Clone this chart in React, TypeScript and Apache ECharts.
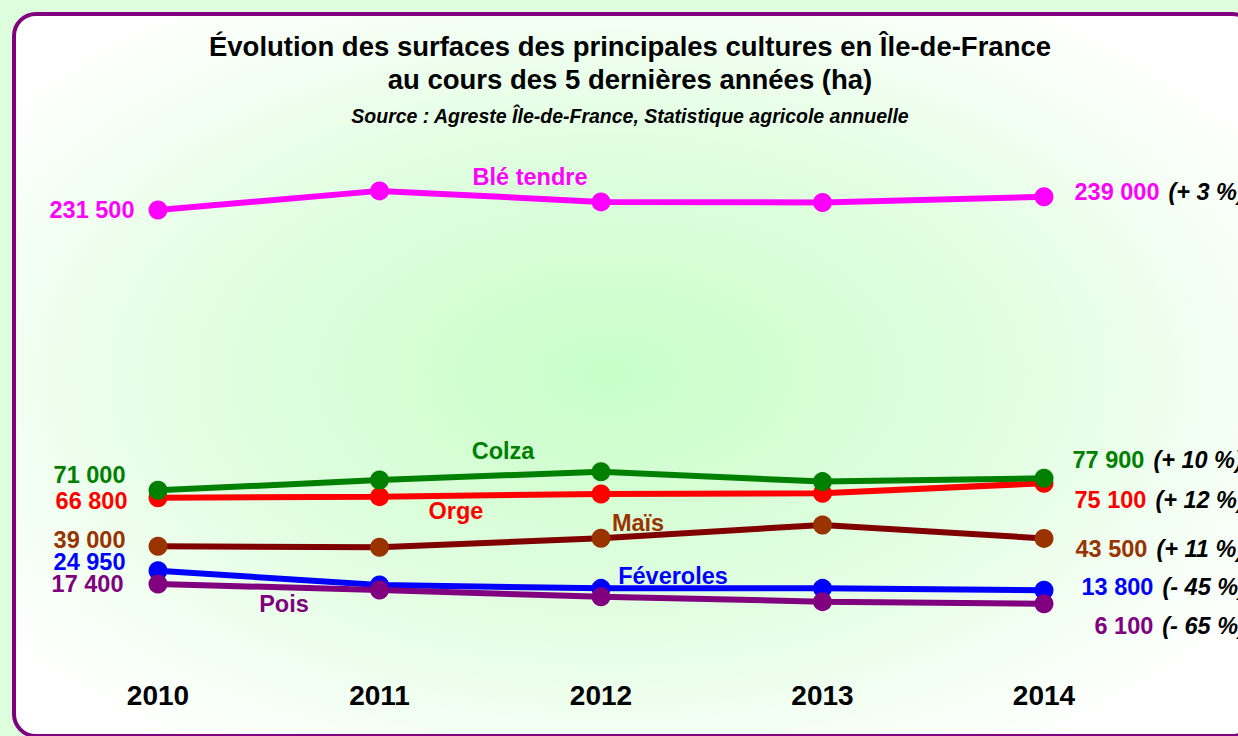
import React, { useEffect, useRef } from "react";
import * as echarts from "echarts";

const years = ["2010", "2011", "2012", "2013", "2014"];
const ble = [231500, 242400, 236100, 235800, 239000];
const colza = [71000, 76900, 81700, 76000, 77900];
const orge = [66800, 67400, 68900, 69300, 75100];
const mais = [39000, 38400, 43600, 51200, 43500];
const feveroles = [24950, 16800, 14900, 14900, 13800];
const pois = [17400, 14000, 10100, 7300, 6100];
const changes = ["+ 3 %", "+ 12 %", "+ 10 %", "+ 11 %", "- 45 %", "- 65 %"];

const FONT = "'Liberation Sans', Arial, sans-serif";

function fmt(v: number) {
  return String(v).replace(/\B(?=(\d{3})+(?!\d))/g, " ");
}

type Spec = {
  name: string;
  values: number[];
  line: string;
  marker: string;
  change: string;
  leftOffset: [number, number];
  rightOffset: [number, number];
};

const specs: Spec[] = [
  { name: "Blé tendre", values: ble, line: "#FF00FF", marker: "#FF00FF", change: changes[0], leftOffset: [-14, 0], rightOffset: [21, -5] },
  { name: "Orge", values: orge, line: "#FF0000", marker: "#FF0000", change: changes[1], leftOffset: [-21, 3], rightOffset: [21, 17] },
  { name: "Colza", values: colza, line: "#008000", marker: "#008000", change: changes[2], leftOffset: [-23, -15], rightOffset: [19, -18] },
  { name: "Maïs", values: mais, line: "#800000", marker: "#993300", change: changes[3], leftOffset: [-23, -6], rightOffset: [22, 11] },
  { name: "Féveroles", values: feveroles, line: "#0000FF", marker: "#0000FF", change: changes[4], leftOffset: [-23, -9], rightOffset: [28, -3] },
  { name: "Pois", values: pois, line: "#800080", marker: "#800080", change: changes[5], leftOffset: [-25, 0], rightOffset: [41, 22] },
];

const nameLabels = [
  { text: "Blé tendre", x: 530, y: 177, color: "#FF00FF" },
  { text: "Colza", x: 503, y: 451, color: "#008000" },
  { text: "Orge", x: 456, y: 511, color: "#FF0000" },
  { text: "Maïs", x: 638, y: 523, color: "#993300" },
  { text: "Féveroles", x: 673, y: 576, color: "#0000FF" },
  { text: "Pois", x: 284, y: 604, color: "#800080" },
];

export default function App() {
  const ref = useRef<HTMLDivElement>(null);
  useEffect(() => {
    if (!ref.current) return;
    const chart = echarts.init(ref.current, null, { renderer: "svg" });
    const series = specs.map((s) => ({
      name: s.name,
      type: "line",
      symbol: "circle",
      symbolSize: 19,
      lineStyle: { color: s.line, width: 6 },
      itemStyle: { color: s.marker },
      data: s.values.map((v, i) => {
        if (i === 0) {
          return {
            value: v,
            label: {
              show: true,
              position: "left",
              distance: 0,
              offset: s.leftOffset,
              formatter: fmt(v),
              color: s.marker,
              fontSize: 23.5,
              fontWeight: "bold",
              fontFamily: FONT,
            },
          };
        }
        if (i === s.values.length - 1) {
          return {
            value: v,
            label: {
              show: true,
              position: "right",
              distance: 0,
              offset: s.rightOffset,
              formatter: "{v|" + fmt(v) + "}{p|(" + s.change + ")}",
              rich: {
                v: { color: s.marker, fontSize: 23.5, fontWeight: "bold", fontFamily: FONT },
                p: { color: "#000", fontSize: 23.5, fontWeight: "bold", fontStyle: "italic", fontFamily: FONT, padding: [0, 0, 0, 9] },
              },
            },
          };
        }
        return v;
      }),
    }));
    chart.setOption({
      animation: false,
      backgroundColor: "#DDFDDD",
      title: {
        text: "Évolution des surfaces des principales cultures en Île-de-France\nau cours des 5 dernières années (ha)",
        subtext: "Source : Agreste Île-de-France, Statistique agricole annuelle",
        left: 625,
        top: 25,
        textAlign: "center",
        itemGap: 9,
        textStyle: { fontSize: 27.5, fontWeight: "bold", color: "#000", lineHeight: 33, fontFamily: FONT },
        subtextStyle: { fontSize: 19.5, fontWeight: "bold", fontStyle: "italic", color: "#000", lineHeight: 22, fontFamily: FONT },
      },
      graphic: [
        {
          type: "rect",
          z: -10,
          silent: true,
          shape: { x: 14, y: 14, width: 1240, height: 722, r: 22 },
          style: {
            fill: {
              type: "radial",
              x: 0.48,
              y: 0.5,
              r: 0.62,
              colorStops: [
                { offset: 0, color: "#C8FEC8" },
                { offset: 0.5, color: "#E0FEE0" },
                { offset: 1, color: "#FFFFFF" },
              ],
            },
            stroke: "#800080",
            lineWidth: 4,
          },
        },
        ...nameLabels.map((n) => ({
          type: "text",
          x: n.x,
          y: n.y,
          z: 10,
          style: {
            text: n.text,
            fill: n.color,
            fontSize: 23.5,
            fontWeight: "bold",
            fontFamily: FONT,
            textAlign: "center",
            textVerticalAlign: "middle",
          },
        })),
      ],
      grid: { left: 158, right: 194, top: 177.6, height: 436.8, containLabel: false },
      xAxis: {
        type: "category",
        data: years,
        boundaryGap: false,
        axisLine: { show: false },
        axisTick: { show: false },
        splitLine: { show: false },
        axisLabel: { margin: 67, fontSize: 28, fontWeight: "bold", color: "#000", fontFamily: FONT },
      },
      yAxis: {
        type: "value",
        min: 0,
        max: 250000,
        show: false,
        splitLine: { show: false },
      },
      series,
    });
    return () => chart.dispose();
  }, []);
  return (
    <div
      ref={ref}
      style={{ position: "fixed", left: 0, top: 0, width: 1238, height: 736 }}
    />
  );
}
